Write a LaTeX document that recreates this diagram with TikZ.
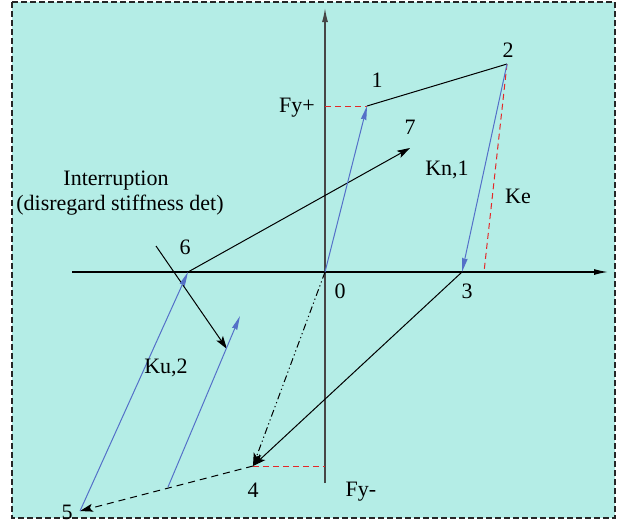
\documentclass[tikz,border=0pt]{standalone}
\usepackage{fontspec}
\setmainfont{Liberation Serif}
\usetikzlibrary{arrows.meta}
\definecolor{bgc}{RGB}{180,237,230}
\definecolor{bluec}{RGB}{84,112,200}
\definecolor{redc}{RGB}{228,40,40}
\definecolor{axc}{RGB}{70,70,70}
\tikzset{
  lbl/.style={inner sep=0pt, font=\fontsize{22}{25}\selectfont},
  bluearr/.style={draw=bluec, line width=1pt, -{Stealth[length=14pt,width=5.5pt,inset=1pt]}},
  blackarr/.style={draw=black, line width=1pt, -{Stealth[length=13pt,width=8pt,inset=3pt]}},
  reddash/.style={draw=redc, line width=1pt, dash pattern=on 6pt off 4pt},
  axis/.style={draw=axc, line width=1.3pt, -{Latex[length=14pt,width=6pt]}},
}
\begin{document}
\begin{tikzpicture}[x=1pt,y=-1pt]
\useasboundingbox (0,0) rectangle (628,525);
\draw[fill=bgc, draw=black!85, line width=1.1pt, dash pattern=on 6pt off 3pt] (12,2) rectangle (615,518);
% points
\coordinate (O) at (325,272);
\coordinate (P1) at (367,106);
\coordinate (P2) at (507,64);
\coordinate (P3) at (462,272);
\coordinate (P4) at (253,466);
\coordinate (P5) at (80,511);
\coordinate (P6) at (188,272);
\coordinate (P7) at (410,148);
\coordinate (KeF) at (484,272);
\coordinate (FyP) at (325,106);
\coordinate (FyM) at (325,466);
\coordinate (B2a) at (168,487);
\coordinate (B2b) at (240,316);
\coordinate (Ia) at (156,246);
\coordinate (Ib) at (227,349);
\coordinate (VA) at (325,483);
\coordinate (VB) at (325,8);
\coordinate (HA) at (72,272);
\coordinate (HB) at (608,272);
% axes
\draw[axis] (VA) -- (VB);
\draw[axis, draw=black] (HA) -- (HB);
% red dashed
\draw[reddash] (FyP) -- (P1);
\draw[reddash] (P2) -- (KeF);
\draw[reddash] (P4) -- (FyM);
% black lines
\draw[black, line width=1pt] (P1) -- (P2);
\draw[blackarr] (P3) -- (P4);
\draw[blackarr, dash pattern=on 7pt off 3pt on 1.2pt off 3pt on 1.2pt off 3pt] (O) -- (P4);
\draw[blackarr, dash pattern=on 7pt off 5pt] (P4) -- (P5);
\draw[blackarr] (P6) -- (P7);
\draw[blackarr] (Ia) -- (Ib);
% blue arrows
\draw[bluearr] (O) -- (P1);
\draw[bluearr] (P2) -- (P3);
\draw[bluearr] (P5) -- (P6);
\draw[bluearr] (B2a) -- (B2b);
% labels
\node[lbl] (l1) at (377,80) {1};
\node[lbl] (l2) at (508,50) {2};
\node[lbl] (lfyp) at (297,108) {Fy+};
\node[lbl] (l7) at (410,127) {7};
\node[lbl] (lkn) at (447,170) {Kn,1};
\node[lbl] (lke) at (518,196) {Ke};
\node[lbl] (lint) at (116,181) {Interruption};
\node[lbl] (ldis) at (120,205) {(disregard stiffness det)};
\node[lbl] (l6) at (185,247) {6};
\node[lbl] (l0) at (340,291) {0};
\node[lbl] (l3) at (467,291) {3};
\node[lbl] (lku) at (166,368) {Ku,2};
\node[lbl] (l4) at (253,490) {4};
\node[lbl] (lfym) at (361,492) {Fy-};
\node[lbl] (l5) at (67,512) {5};
\end{tikzpicture}
\end{document}
